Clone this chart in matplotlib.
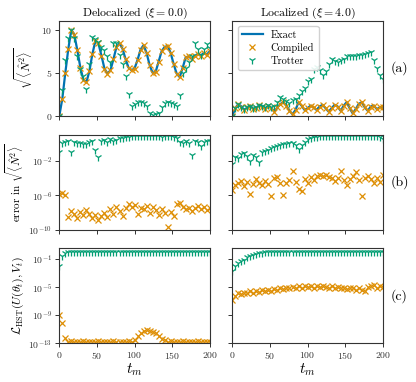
import numpy as np
import matplotlib
matplotlib.use("Agg")
import matplotlib.pyplot as plt

plt.rcParams['font.family'] = 'serif'
plt.rcParams['font.serif'] = ['cmr10']
plt.rcParams['mathtext.fontset'] = 'cm'
plt.rcParams['axes.unicode_minus'] = False
plt.rcParams['axes.formatter.use_mathtext'] = True

# time grid
t = np.arange(0, 201, 4)

# (a) sqrt(<N^2>)
exact_deloc = [0.0, 2.0, 5.0, 7.8, 10.0, 9.4, 7.6, 5.6, 4.2, 3.9,
               5.2, 7.2, 8.7, 8.4, 7.0, 5.5, 4.9, 5.3, 6.6, 8.0,
               8.4, 7.8, 6.6, 5.6, 5.3, 5.5, 6.5, 7.7, 8.2, 7.3,
               5.9, 5.0, 5.1, 6.3, 7.5, 8.0, 8.1, 7.3, 6.0, 4.9,
               4.5, 5.6, 6.8, 6.9, 6.6, 6.9, 7.2, 7.0, 7.3, 7.1,
               7.5]
trotter_deloc = [0.0, 3.0, 6.5, 9.0, 10.0, 9.0, 7.0, 5.5, 4.6, 3.1,
                 6.0, 9.2, 8.9, 8.6, 8.0, 7.6, 6.9, 6.2, 8.4, 8.5,
                 7.1, 6.0, 4.6, 2.5, 1.2, 1.35, 1.6, 1.6, 1.5, 1.2,
                 0.4, 0.1, 0.2, 0.3, 1.1, 1.5, 1.6, 1.5, 1.4, 1.2,
                 2.4, 5.0, 5.6, 6.2, 7.0, 8.4, 7.8, 7.1, 7.8, 8.3,
                 7.9]
exact_loc = [0.0, 0.9, 1.4, 1.1, 0.7, 1.0, 1.2, 0.8, 0.9, 1.3,
             1.1, 0.8, 1.2, 0.9, 0.5, 1.0, 1.4, 1.6, 1.2, 0.6,
             0.2, 0.7, 1.6, 1.2, 0.7, 0.9, 1.2, 1.0, 0.7, 1.1,
             1.3, 0.9, 0.5, 0.9, 1.3, 1.1, 0.6, 1.2, 1.6, 0.9,
             0.3, 0.8, 1.4, 1.6, 1.0, 0.6, 1.1, 1.2, 0.8, 1.0,
             1.1]
trotter_loc = [0.0, 0.9, 1.4, 1.1, 0.8, 1.0, 1.2, 0.9, 1.0, 1.3,
               1.2, 1.0, 1.3, 1.1, 1.2, 1.6, 2.2, 2.0, 1.7, 1.5,
               1.8, 2.0, 2.4, 2.9, 3.3, 4.0, 4.3, 5.4, 5.7, 5.3,
               4.8, 5.2, 6.0, 6.6, 6.4, 6.2, 6.5, 6.6, 6.9, 6.9,
               7.0, 7.0, 7.1, 7.1, 7.2, 7.3, 7.4, 6.5, 5.6, 4.8,
               4.3]

# (b) error, log10
err_comp_deloc = [-5.8, -5.7, -5.9, -8.5, -7.8, -8.2, -8.6, -7.9, -8.3, -7.7,
                  -8.1, -8.6, -8.3, -8.8, -8.4, -8.0, -8.5, -7.6, -8.2, -7.3,
                  -7.8, -8.4, -7.5, -7.0, -7.3, -7.1, -8.1, -7.4, -7.6, -7.2,
                  -8.0, -7.3, -7.7, -8.3, -7.6, -8.0, -9.6, -7.9, -8.4, -7.0,
                  -6.9, -7.3, -7.6, -7.4, -7.8, -7.5, -7.2, -7.6, -7.3, -7.7,
                  -7.4]
err_trot_deloc = [-1.0, 0.1, 0.2, 0.3, -1.0, 0.2, 0.1, 0.05, -0.05, 0.0,
                  0.2, 0.3, -0.7, -1.5, 0.3, 0.4, 0.2, 0.5, 0.3, 0.4,
                  0.6, 0.7, 0.8, 0.8, 0.9, 0.9, 0.9, 0.9, 0.9, 0.9,
                  0.9, 0.9, 0.9, 0.85, 0.8, 0.85, 0.9, 0.85, 0.8, 0.6,
                  0.2, 0.1, 0.3, 0.1, -1.3, 0.3, 0.2, -0.3, 0.2, 0.3,
                  0.3]
err_comp_loc = [-5.4, -4.8, -4.6, -4.3, -4.9, -4.4, -5.8, -4.7, -4.1, -4.5,
                -4.8, -4.3, -4.7, -6.1, -4.0, -3.9, -4.6, -6.0, -4.5, -4.2,
                -3.2, -4.4, -5.3, -5.5, -4.1, -4.6, -3.9, -4.2, -3.8, -3.6,
                -3.7, -3.6, -3.9, -4.0, -4.3, -4.0, -3.2, -4.2, -4.8, -4.1,
                -3.8, -3.3, -4.2, -6.1, -4.0, -3.8, -4.1, -4.6, -4.0, -4.4,
                -3.6]
err_trot_loc = [-2.4, -1.5, -1.7, -1.2, -1.1, -1.4, -2.0, -1.3, -1.5, -2.1,
                -1.0, -0.8, -0.7, -0.5, -0.4, -0.3, -0.1, -0.05, 0.0, 0.05,
                0.1, -0.2, -0.6, -0.1, 0.2, 0.5, 0.65, 0.75, 0.8, 0.85,
                0.9, 0.88, 0.9, 0.92, 0.9, 0.92, 0.93, 0.9, 0.92, 0.93,
                0.92, 0.93, 0.92, 0.93, 0.92, 0.93, 0.92, 0.9, 0.85, 0.75,
                0.55]

# (c) HST cost, log10
loss_comp_deloc = [-9.0, -10.1, -12.3, -12.75, -12.7, -12.75, -12.8, -12.75, -12.7, -12.75,
                   -12.75, -12.8, -12.75, -12.7, -12.75, -12.75, -12.8, -12.75, -12.7, -12.75,
                   -12.75, -12.8, -12.75, -12.7, -12.75, -12.5, -12.0, -11.6, -11.3, -11.1,
                   -11.2, -11.4, -11.6, -12.0, -12.4, -12.6, -12.75, -12.7, -12.75, -12.8,
                   -12.75, -12.7, -12.75, -12.75, -12.8, -12.75, -12.7, -12.75, -12.75, -12.8,
                   -12.75]
loss_trot_deloc = [-2.0, -0.6, -0.1, -0.05, -0.05, -0.05, -0.05, -0.05, -0.05, -0.05,
                   -0.05, -0.05, -0.05, -0.05, -0.05, -0.05, -0.05, -0.05, -0.05, -0.05,
                   -0.05, -0.05, -0.05, -0.05, -0.05, -0.05, -0.05, -0.05, -0.05, -0.05,
                   -0.05, -0.05, -0.05, -0.05, -0.05, -0.05, -0.05, -0.05, -0.05, -0.05,
                   -0.05, -0.05, -0.05, -0.05, -0.05, -0.05, -0.05, -0.05, -0.05, -0.05,
                   -0.05]
loss_comp_loc = [-6.9, -6.3, -5.9, -6.0, -5.8, -5.9, -5.6, -5.8, -5.6, -5.7,
                 -5.4, -5.6, -5.4, -5.5, -5.3, -5.4, -5.2, -5.3, -5.1, -5.2,
                 -5.0, -5.2, -4.9, -5.1, -4.9, -5.0, -4.9, -5.1, -4.9, -5.0,
                 -4.8, -5.0, -5.1, -4.9, -5.1, -5.0, -5.2, -5.1, -5.3, -5.1,
                 -5.2, -5.4, -5.2, -5.4, -5.5, -5.0, -4.8, -4.7, -5.1, -4.8,
                 -5.0]
loss_trot_loc = [-2.7, -2.0, -1.6, -1.3, -1.1, -0.8, -0.6, -0.45, -0.3, -0.2,
                 -0.1, -0.05, -0.05, -0.05, -0.05, -0.05, -0.05, -0.05, -0.05, -0.05,
                 -0.05, -0.05, -0.05, -0.05, -0.05, -0.05, -0.05, -0.05, -0.05, -0.05,
                 -0.05, -0.05, -0.05, -0.05, -0.05, -0.05, -0.05, -0.05, -0.05, -0.05,
                 -0.05, -0.05, -0.05, -0.05, -0.05, -0.05, -0.05, -0.05, -0.05, -0.05,
                 -0.05]

c_exact = '#0173b2'
c_comp = '#de8f05'
c_trot = '#029e73'

fig = plt.figure(figsize=(4.16, 3.82), dpi=100)
W, H = 416., 382.
cols = [59.3, 232.3]
cw = 150.5
rows = [(21, 116), (135, 230), (248.3, 343.3)]

axes = []
for r, (top, bot) in enumerate(rows):
    line = []
    for c, x0 in enumerate(cols):
        ax = fig.add_axes([x0 / W, 1 - bot / H, cw / W, (bot - top) / H])
        line.append(ax)
    axes.append(line)

mk_c = dict(ls='none', marker='x', color=c_comp, ms=4.5, mew=0.9)
mk_t = dict(ls='none', marker='1', color=c_trot, ms=5.5, mew=0.9)

# row a
for ax, ex, tr in [(axes[0][0], exact_deloc, trotter_deloc), (axes[0][1], exact_loc, trotter_loc)]:
    ax.plot(t, ex, '-', color=c_exact, lw=1.6, label='Exact')
    ax.plot(t, ex, label='Compiled', **mk_c)
    ax.plot(t, tr, label='Trotter', **mk_t)
    ax.set_ylim(0, 11)
    ax.set_yticks([0, 5, 10])

# row b
for ax, ec, et in [(axes[1][0], err_comp_deloc, err_trot_deloc), (axes[1][1], err_comp_loc, err_trot_loc)]:
    ax.plot(t, 10.0 ** np.array(ec), **mk_c)
    ax.plot(t, 10.0 ** np.array(et), **mk_t)
    ax.set_yscale('log')
    ax.set_ylim(1e-10, 10)
    ax.set_yticks([1e-10, 1e-6, 1e-2])

# row c
for ax, lc, lt in [(axes[2][0], loss_comp_deloc, loss_trot_deloc), (axes[2][1], loss_comp_loc, loss_trot_loc)]:
    ax.plot(t, 10.0 ** np.array(lc), **mk_c)
    ax.plot(t, 10.0 ** np.array(lt), **mk_t)
    ax.set_yscale('log')
    ax.set_ylim(1e-13, 10 ** 0.5)
    ax.set_yticks([1e-13, 1e-9, 1e-5, 1e-1])

for r in range(3):
    for c in range(2):
        ax = axes[r][c]
        ax.set_xlim(0, 200)
        ax.set_xticks([0, 50, 100, 150, 200])
        ax.minorticks_off()
        ax.tick_params(labelsize=7, length=3, width=0.7, pad=2, colors='#333333')
        for s in ax.spines.values():
            s.set_color('#333333')
            s.set_linewidth(0.8)
        if c == 1:
            ax.set_yticklabels([])
        if r < 2:
            ax.set_xticklabels([])
        else:
            ax.set_xlabel('$t_m$', fontsize=11, labelpad=0)

axes[0][0].set_title(r'Delocalized ($\xi = 0.0$)', fontsize=8.5, pad=3)
axes[0][1].set_title(r'Localized ($\xi = 4.0$)', fontsize=8.5, pad=3)

axes[0][0].set_ylabel(r'$\sqrt{\langle \hat{N}^2 \rangle}$', fontsize=8.5, labelpad=4)
axes[1][0].set_ylabel(r'error in $\sqrt{\langle \hat{N}^2 \rangle}$', fontsize=8, labelpad=2)
axes[2][0].set_ylabel(r'$\mathcal{L}_{\rm HST}(U(\mathbf{\theta}_t), V_t)$', fontsize=8.5, labelpad=2)

axes[0][1].legend(loc='upper left', fontsize=7.5, handlelength=2.0, borderpad=0.4,
                  labelspacing=0.3, framealpha=0.9, edgecolor='#cccccc')

for r, lab in enumerate(['(a)', '(b)', '(c)']):
    axes[r][1].text(1.055, 0.5, lab, transform=axes[r][1].transAxes,
                    va='center', ha='left', fontsize=10)

fig.savefig('out.png', dpi=100)
